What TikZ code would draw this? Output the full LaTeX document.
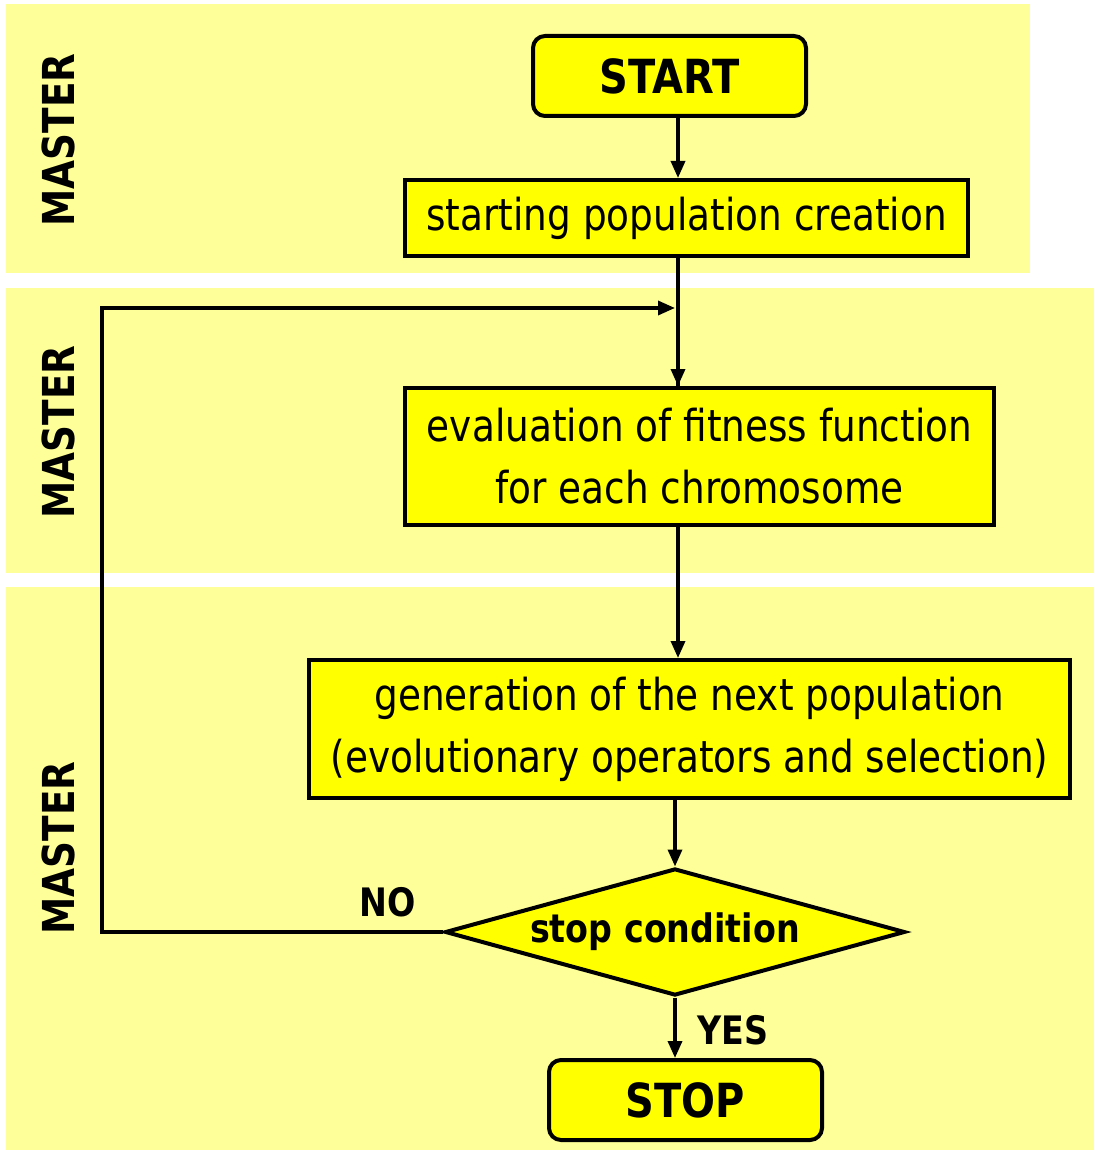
\documentclass[tikz,border=0pt]{standalone}
\usepackage{fontspec}
\setmainfont{DejaVu Sans}[FakeStretch=0.85]
\usetikzlibrary{shapes.geometric,arrows.meta}
\definecolor{bandyellow}{HTML}{FFFF99}
\definecolor{boxyellow}{HTML}{FFFF00}
\begin{document}
\begin{tikzpicture}[x=0.5pt,y=-0.5pt,
  band/.style={fill=bandyellow,draw=none},
  procbox/.style={draw=black,fill=boxyellow,line width=2pt,inner sep=0pt,
    align=center,font=\fontsize{22}{31}\selectfont},
  termbox/.style={procbox,rounded corners=6pt,font=\fontsize{23.5}{27}\selectfont\bfseries},
  decision/.style={diamond,draw=black,fill=boxyellow,line width=2pt,inner sep=0pt,
    aspect=3.6,minimum width=230pt,minimum height=63.5pt,font=\fontsize{19.6}{23}\selectfont\bfseries},
  lanelabel/.style={rotate=90,font=\fontsize{22}{26}\selectfont\bfseries},
  branchlabel/.style={font=\fontsize{19.6}{23}\selectfont\bfseries},
  arr/.style={line width=1.7pt,-{Triangle[length=8.5pt,width=7pt]}},
  wire/.style={line width=1.7pt}]
\useasboundingbox (0,0) rectangle (1094,1150);

% swimlane bands
\fill[band] (6,4) rectangle (1030,273);
\fill[band] (6,288) rectangle (1094,573);
\fill[band] (6,587) rectangle (1094,1150);

\node[lanelabel] (lane1) at (58,140) {MASTER};
\node[lanelabel] (lane2) at (58,432) {MASTER};
\node[lanelabel] (lane3) at (58,848) {MASTER};

% flowchart steps
\node[termbox,minimum width=136.5pt,minimum height=40pt] (start) at (669.5,76) {START};
\node[procbox,minimum width=281.5pt,minimum height=38pt] (pop) at (686.5,218) {starting population creation};
\node[procbox,minimum width=294.5pt,minimum height=68.5pt] (eval) at (699.5,456.5) {evaluation of fitness function\\for each chromosome};
\node[procbox,minimum width=380.5pt,minimum height=69pt] (gen) at (689.5,729) {generation of the next population\\(evolutionary operators and selection)};
\node[decision] (cond) at (675,932) {\hspace*{-10pt}stop condition};
\node[termbox,minimum width=136.5pt,minimum height=40pt] (stop) at (685.5,1100) {STOP};

% main spine and loop corners
\coordinate (spine) at (678,0);
\coordinate (loopbot) at (102,932);
\coordinate (looptop) at (102,308);
\coordinate (merge) at (675,308);

\draw[arr] (start.south -| spine) -- (pop.north -| spine);
\draw[wire] (pop.south -| spine) -- (eval.north -| spine);
\draw[arr] (merge -| spine) -- (eval.north -| spine);
\draw[arr] (eval.south -| spine) -- (gen.north -| spine);
\draw[arr] (gen.south -| cond.north) -- (cond.north);
\draw[arr] (cond.south) -- (stop.north -| cond.south);
\draw[arr] (cond.west) -- (loopbot) -- (looptop) -- (merge);

\node[branchlabel] (nolabel) at (388,902) {NO};
\node[branchlabel] (yeslabel) at (733,1030) {YES};
\end{tikzpicture}
\end{document}
